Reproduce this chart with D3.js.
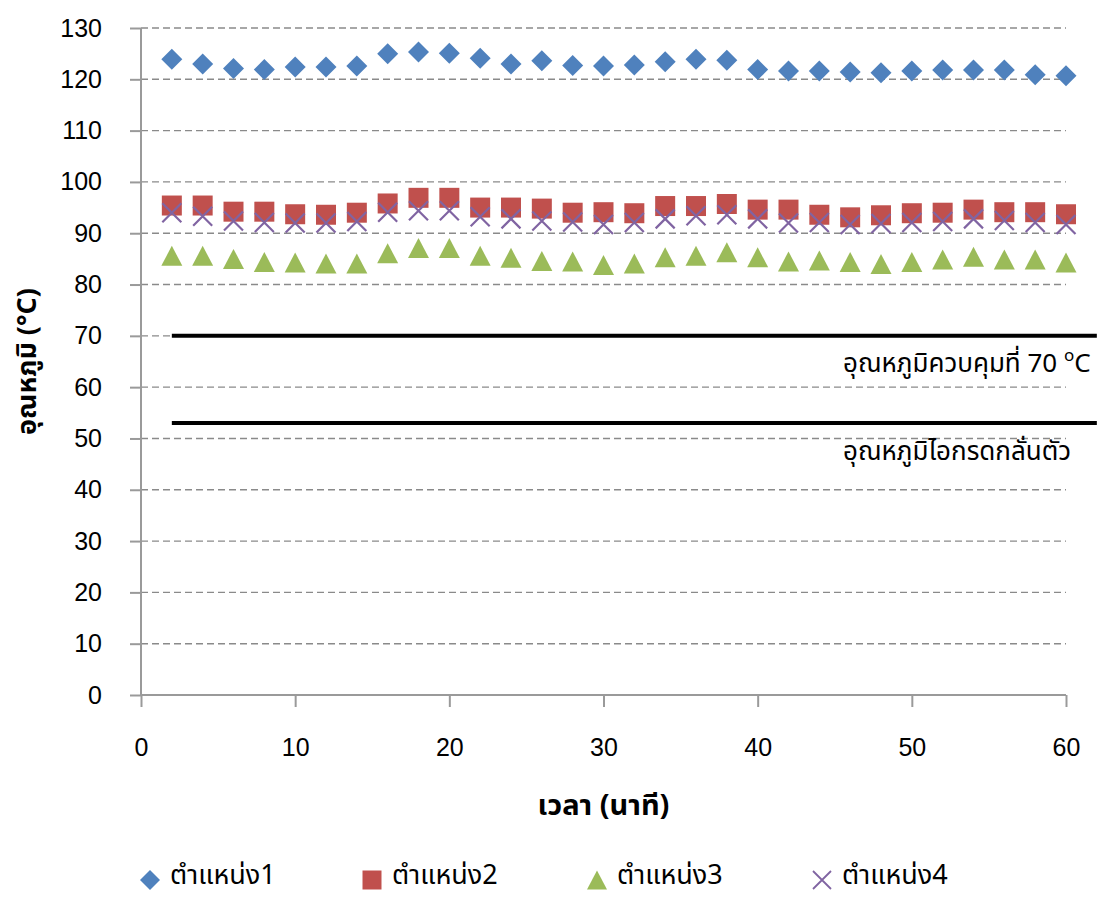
<!DOCTYPE html>
<html>
<head>
<meta charset="utf-8">
<script src="https://cdn.jsdelivr.net/npm/d3@7"></script>
<style>
  html, body { margin: 0; padding: 0; background: #fff; }
  svg { display: block; font-family: "Liberation Sans", Arial, "Noto Sans", sans-serif; }
</style>
</head>
<body>
<svg id="chart" width="1097" height="897"></svg>
<script>
// Sampling times (minutes)
const minutes = [2,4,6,8,10,12,14,16,18,20,22,24,26,28,30,32,34,36,38,40,42,44,46,48,50,52,54,56,58,60];

// Temperatures (°C) at each measuring position
const position1 = [123.9,123.0,122.1,121.9,122.4,122.4,122.6,125.0,125.3,125.1,124.1,123.0,123.6,122.7,122.6,122.8,123.4,123.9,123.7,121.9,121.6,121.6,121.4,121.3,121.6,121.8,121.8,121.8,120.9,120.7];
const position2 = [95.4,95.4,94.2,94.2,93.7,93.6,94.0,95.8,96.9,96.9,95.0,95.0,94.8,94.0,94.1,93.9,95.3,95.3,95.7,94.6,94.6,93.6,93.1,93.5,93.9,94.0,94.6,94.1,94.1,93.7];
const position3 = [85.6,85.6,85.0,84.4,84.3,84.1,84.1,86.1,87.1,87.1,85.6,85.2,84.6,84.5,83.8,84.1,85.3,85.6,86.3,85.3,84.5,84.7,84.4,84.0,84.4,84.9,85.4,84.9,84.9,84.3];
const position4 = [94.0,93.3,92.4,92.1,92.0,92.0,92.3,94.1,94.4,94.4,93.2,92.8,92.4,92.2,91.7,92.1,92.8,93.4,93.6,92.8,92.0,92.1,91.7,91.9,92.1,92.3,92.8,92.5,92.1,91.7];

const seriesNames = ["ตำแหน่ง1", "ตำแหน่ง2", "ตำแหน่ง3", "ตำแหน่ง4"];

// Axis ticks
const yTicks = [0,10,20,30,40,50,60,70,80,90,100,110,120,130];
const xTicks = [0,10,20,30,40,50,60];

// Reference temperatures: controlled temperature and acid-vapour condensation
const refLevels = [70, 53];
const refSpan = [2, 62];
const refLabels = ["อุณหภูมิควบคุมที่ 70 ", "อุณหภูมิไอกรดกลั่นตัว"];

const thaiFont = "Tahoma, 'Noto Sans Thai', 'Noto Sans', 'DejaVu Sans', sans-serif";

const svg = d3.select("#chart");
const x = d3.scaleLinear().domain([0, 60]).range([141, 1066]);
const y = d3.scaleLinear().domain([0, 130]).range([695, 28]);

const gridColor = "#8a8a8a";
const axisColor = "#9a9a9a";

// Dashed horizontal gridlines
svg.append("g").selectAll("line")
  .data(yTicks.filter(d => d > 0))
  .join("line")
  .attr("x1", x(0)).attr("x2", x(60))
  .attr("y1", d => y(d)).attr("y2", d => y(d))
  .attr("stroke", gridColor).attr("stroke-width", 1.4)
  .attr("stroke-dasharray", "7,4");

// Y axis
const yAxis = svg.append("g")
  .attr("transform", `translate(${x(0)},0)`)
  .call(d3.axisLeft(y).tickValues(yTicks).tickSize(11).tickPadding(28));
// X axis
const xAxis = svg.append("g")
  .attr("transform", `translate(0,${y(0)})`)
  .call(d3.axisBottom(x).tickValues(xTicks).tickSize(12).tickPadding(31));

[yAxis, xAxis].forEach(g => {
  g.select(".domain").attr("stroke", axisColor).attr("stroke-width", 2);
  g.selectAll(".tick line").attr("stroke", axisColor).attr("stroke-width", 2);
  g.selectAll(".tick text").attr("fill", "#000").attr("font-size", 25)
    .attr("font-family", "'Liberation Sans', Arial, sans-serif");
});
yAxis.select(".domain").attr("d", `M0,${y(130)}V${y(0)}`);
xAxis.select(".domain").attr("d", `M${x(0)},0H${x(60)}`);

// Reference lines
svg.append("g").selectAll("line")
  .data(refLevels)
  .join("line")
  .attr("x1", x(refSpan[0])).attr("x2", x(refSpan[1]))
  .attr("y1", d => y(d)).attr("y2", d => y(d))
  .attr("stroke", "#000").attr("stroke-width", 4);

// Reference line labels
const refText = svg.append("g").attr("font-size", 26).attr("fill", "#000")
  .attr("font-family", thaiFont);
const t1 = refText.append("text").attr("x", 843).attr("y", y(refLevels[0]) + 36);
t1.append("tspan").text(refLabels[0]);
t1.append("tspan").attr("dy", -11).attr("font-size", 17).text("o");
t1.append("tspan").attr("dy", 11).text("C");
refText.append("text").attr("x", 843).attr("y", y(refLevels[1]) + 37).text(refLabels[1]);

// Marker shapes
const diamond = r => `M0,${-r}L${r},0L0,${r}L${-r},0Z`;
const square = s => `M${-s/2},${-s/2}h${s}v${s}h${-s}Z`;
const triangle = (w, h) => `M0,${-h/2}L${w/2},${h/2}L${-w/2},${h/2}Z`;
const cross = r => `M${-r},${-r}L${r},${r}M${-r},${r}L${r},${-r}`;

const series = [
  { name: seriesNames[0], values: position1, path: diamond(10.5), fill: "#4F81BD", stroke: "none" },
  { name: seriesNames[1], values: position2, path: square(20), fill: "#C0504D", stroke: "none" },
  { name: seriesNames[2], values: position3, path: triangle(21, 20), fill: "#9BBB59", stroke: "none" },
  { name: seriesNames[3], values: position4, path: cross(9.5), fill: "none", stroke: "#8064A2" }
];

series.forEach(s => {
  svg.append("g").selectAll("path")
    .data(s.values)
    .join("path")
    .attr("transform", (d, i) => `translate(${x(minutes[i])},${y(d)})`)
    .attr("d", s.path)
    .attr("fill", s.fill)
    .attr("stroke", s.stroke)
    .attr("stroke-width", s.stroke === "none" ? 0 : 2.2);
});

// Axis titles
svg.append("text")
  .attr("transform", `translate(36,${(y(0) + y(130)) / 2}) rotate(-90)`)
  .attr("text-anchor", "middle")
  .attr("font-size", 27).attr("font-weight", "bold")
  .attr("font-family", thaiFont)
  .text("อุณหภูมิ (°C)");

svg.append("text")
  .attr("x", (x(0) + x(60)) / 2).attr("y", 815)
  .attr("text-anchor", "middle")
  .attr("font-size", 29).attr("font-weight", "bold")
  .attr("font-family", thaiFont)
  .text("เวลา (นาที)");

// Legend
const legendX = [150, 372, 597, 822];
const legendShapes = [diamond(10), square(19), triangle(20, 19), cross(9)];
const legend = svg.append("g");
series.forEach((s, i) => {
  const g = legend.append("g").attr("transform", `translate(${legendX[i]},880)`);
  g.append("path").attr("d", legendShapes[i])
    .attr("fill", s.fill).attr("stroke", s.stroke)
    .attr("stroke-width", s.stroke === "none" ? 0 : 1.8);
  g.append("text").attr("x", 20).attr("y", 4)
    .attr("font-size", 27)
    .attr("font-family", thaiFont)
    .text(s.name);
});
</script>
</body>
</html>
